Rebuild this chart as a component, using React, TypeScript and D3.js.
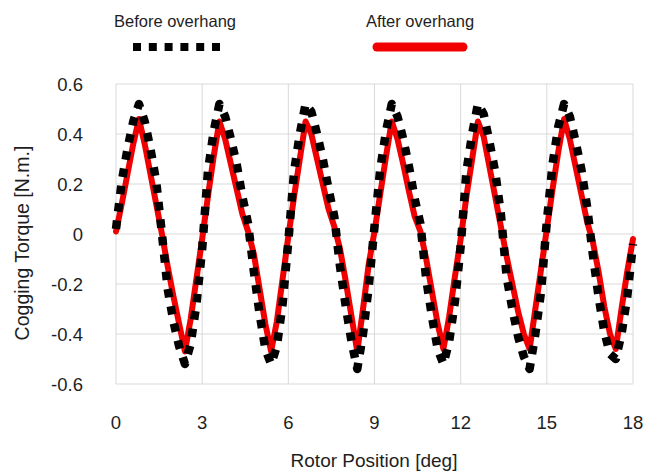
import React from "react";
import * as d3 from "d3";

// Rotor position samples [deg]
const rotorPosition = [
  0.0, 0.2, 0.4, 0.6, 0.8, 1.0, 1.2, 1.4, 1.6, 1.8,
  2.0, 2.2, 2.4, 2.6, 2.8, 3.0, 3.2, 3.4, 3.6, 3.8,
  4.0, 4.2, 4.4, 4.6, 4.8, 5.0, 5.2, 5.4, 5.6, 5.8,
  6.0, 6.2, 6.4, 6.6, 6.8, 7.0, 7.2, 7.4, 7.6, 7.8,
  8.0, 8.2, 8.4, 8.6, 8.8, 9.0, 9.2, 9.4, 9.6, 9.8,
  10.0, 10.2, 10.4, 10.6, 10.8, 11.0, 11.2, 11.4, 11.6, 11.8,
  12.0, 12.2, 12.4, 12.6, 12.8, 13.0, 13.2, 13.4, 13.6, 13.8,
  14.0, 14.2, 14.4, 14.6, 14.8, 15.0, 15.2, 15.4, 15.6, 15.8,
  16.0, 16.2, 16.4, 16.6, 16.8, 17.0, 17.2, 17.4, 17.6, 17.8,
  18.0,
];

// Cogging torque before overhang [N.m.]
const torqueBefore = [
  0.02, 0.21, 0.34, 0.45, 0.52, 0.45, 0.34, 0.21, 0.0, -0.22,
  -0.35, -0.45, -0.52, -0.44, -0.28, -0.06, 0.25, 0.41, 0.52, 0.47,
  0.38, 0.28, 0.15, 0.04, -0.15, -0.32, -0.46, -0.52, -0.45, -0.28,
  -0.03, 0.25, 0.40, 0.52, 0.49, 0.40, 0.30, 0.18, 0.07, -0.13,
  -0.29, -0.43, -0.54, -0.40, -0.21, 0.03, 0.26, 0.41, 0.52, 0.47,
  0.38, 0.27, 0.14, 0.04, -0.18, -0.33, -0.46, -0.52, -0.43, -0.27,
  -0.05, 0.25, 0.40, 0.52, 0.48, 0.37, 0.25, 0.08, -0.17, -0.30,
  -0.41, -0.49, -0.54, -0.40, -0.23, 0.05, 0.28, 0.43, 0.52, 0.47,
  0.37, 0.26, 0.11, -0.08, -0.25, -0.39, -0.48, -0.50, -0.40, -0.25,
  -0.04,
];

// Cogging torque after overhang [N.m.]
const torqueAfter = [
  0.01, 0.12, 0.24, 0.36, 0.46, 0.36, 0.24, 0.12, 0.0, -0.13,
  -0.25, -0.36, -0.47, -0.34, -0.18, -0.02, 0.15, 0.31, 0.45, 0.38,
  0.28, 0.18, 0.08, 0.01, -0.08, -0.22, -0.36, -0.47, -0.35, -0.18,
  -0.01, 0.15, 0.30, 0.45, 0.40, 0.30, 0.20, 0.10, 0.03, -0.06,
  -0.19, -0.33, -0.47, -0.30, -0.12, 0.01, 0.16, 0.31, 0.45, 0.38,
  0.28, 0.17, 0.07, 0.01, -0.10, -0.23, -0.36, -0.46, -0.33, -0.17,
  -0.02, 0.15, 0.30, 0.45, 0.39, 0.27, 0.15, 0.03, -0.09, -0.20,
  -0.31, -0.40, -0.46, -0.30, -0.14, 0.02, 0.18, 0.33, 0.46, 0.38,
  0.27, 0.16, 0.05, -0.03, -0.15, -0.29, -0.40, -0.46, -0.30, -0.15,
  -0.02,
];

const xTicks = [0, 3, 6, 9, 12, 15, 18];
const yTicks = [-0.6, -0.4, -0.2, 0, 0.2, 0.4, 0.6];
const seriesNames = ["Before overhang", "After overhang"];

const W = 646;
const H = 473;
const plot = { left: 116, right: 633, top: 84, bottom: 384 };
const font = "'Liberation Sans', Arial, sans-serif";
const textColor = "#1e1e1e";
const gridColor = "#d9d9d9";

export default function App() {
  const x = d3.scaleLinear().domain([0, 18]).range([plot.left, plot.right]);
  const y = d3.scaleLinear().domain([-0.6, 0.6]).range([plot.bottom, plot.top]);

  const line = d3
    .line<number>()
    .x((_, i) => x(rotorPosition[i]))
    .y((d) => y(d))
    .curve(d3.curveLinear);

  const fmtY = (v: number) => (v === 0 ? "0" : d3.format(".1f")(v).replace("−", "-"));

  return (
    <svg
      width={W}
      height={H}
      style={{ position: "absolute", left: 0, top: 0, background: "#fff" }}
      fontFamily={font}
    >
      <rect x={0} y={0} width={W} height={H} fill="#fff" />

      {/* Gridlines */}
      {yTicks.map((t) => (
        <line
          key={`gy${t}`}
          x1={plot.left}
          x2={plot.right}
          y1={y(t)}
          y2={y(t)}
          stroke={gridColor}
          strokeWidth={1}
        />
      ))}
      {xTicks.map((t) => (
        <line
          key={`gx${t}`}
          x1={x(t)}
          x2={x(t)}
          y1={plot.top}
          y2={plot.bottom}
          stroke={gridColor}
          strokeWidth={1}
        />
      ))}

      {/* Tick labels */}
      {yTicks.map((t) => (
        <text
          key={`ty${t}`}
          x={83}
          y={y(t)}
          textAnchor="end"
          dominantBaseline="central"
          fontSize={18.5}
          fill={textColor}
        >
          {fmtY(t)}
        </text>
      ))}
      {xTicks.map((t) => (
        <text
          key={`tx${t}`}
          x={x(t)}
          y={422}
          textAnchor="middle"
          dominantBaseline="central"
          fontSize={18.5}
          fill={textColor}
        >
          {t}
        </text>
      ))}

      {/* Axis titles */}
      <text x={374} y={467} textAnchor="middle" fontSize={19} fill={textColor}>
        Rotor Position [deg]
      </text>
      <text
        transform={`translate(22, ${243}) rotate(-90)`}
        textAnchor="middle"
        dominantBaseline="central"
        fontSize={19.5}
        fill={textColor}
      >
        Cogging Torque [N.m.]
      </text>

      {/* Series: red drawn first, dotted black over it */}
      <path
        d={line(torqueAfter) ?? ""}
        fill="none"
        stroke="#f00000"
        strokeWidth={6}
        strokeLinejoin="round"
        strokeLinecap="round"
      />
      <path
        d={line(torqueBefore) ?? ""}
        fill="none"
        stroke="#000"
        strokeWidth={8.5}
        strokeDasharray="8.5 9"
        strokeLinejoin="round"
      />

      {/* Legend */}
      <text
        x={175}
        y={21}
        textAnchor="middle"
        dominantBaseline="central"
        fontSize={16.5}
        fill={textColor}
      >
        {seriesNames[0]}
      </text>
      <line x1={133} x2={220} y1={47} y2={47} stroke="#000" strokeWidth={8} strokeDasharray="8 7.8" />
      <text
        x={420}
        y={21}
        textAnchor="middle"
        dominantBaseline="central"
        fontSize={16.5}
        fill={textColor}
      >
        {seriesNames[1]}
      </text>
      <line
        x1={377}
        x2={463}
        y1={47}
        y2={47}
        stroke="#f00000"
        strokeWidth={9}
        strokeLinecap="round"
      />
    </svg>
  );
}
